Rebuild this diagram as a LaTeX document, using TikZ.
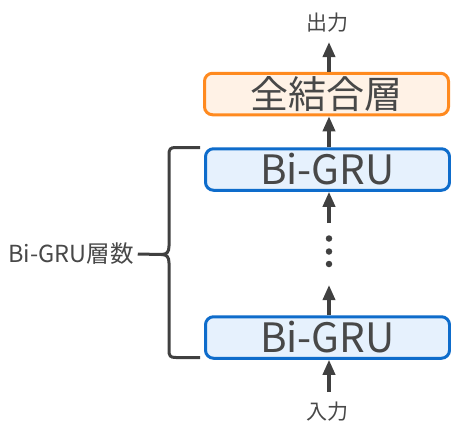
\documentclass[tikz,border=0pt]{standalone}
\usepackage{fontspec}
\setmainfont{Noto Sans CJK JP}
\usetikzlibrary{arrows.meta}
\definecolor{txt}{HTML}{484848}
\definecolor{arr}{HTML}{404040}
\definecolor{orgB}{HTML}{FF8A1F}
\definecolor{orgF}{HTML}{FFF2E6}
\definecolor{bluB}{HTML}{0E6CCB}
\definecolor{bluF}{HTML}{E6F1FD}
\tikzset{
  layerbox/.style={rounded corners=8pt, line width=3pt, minimum width=244pt, minimum height=41.5pt, inner sep=0pt, text=txt},
  fcbox/.style={layerbox, draw=orgB, fill=orgF, font=\fontsize{38}{40}\selectfont},
  grubox/.style={layerbox, draw=bluB, fill=bluF, font=\fontsize{40.5}{42}\selectfont},
  flow/.style={draw=arr, line width=3.5pt, -{Triangle[width=12pt,length=15pt]}},
  lbl/.style={text=txt, inner sep=0pt, font=\fontsize{21}{24}\selectfont},
  dotmark/.style={circle, fill=arr, inner sep=0pt, minimum size=6.5pt}
}
\begin{document}
\begin{tikzpicture}[x=1pt,y=-1pt]
\useasboundingbox (0,0) rectangle (451,426);
\node[fcbox] (fc) at (326.5,94) {全結合層};
\node[grubox] (g2) at (327.5,169.5) {Bi-GRU};
\node[grubox] (g1) at (327.5,337.5) {Bi-GRU};
\node[lbl] (out) at (327,23) {出力};
\node[lbl] (in) at (327,412) {入力};
\node[lbl, font=\fontsize{23.5}{26}\selectfont] (num) at (71,254) {Bi-GRU層数};
\node[dotmark] (d1) at (329,238.5) {};
\node[dotmark] (d2) at (329,251.5) {};
\node[dotmark] (d3) at (329,264) {};
\coordinate (outend) at (329,42);
\coordinate (c1) at (329,223);
\coordinate (c2) at (329,285);
\coordinate (inend) at (329,392);
\draw[flow] ([xshift=2.5pt]fc.north) -- (outend);
\draw[flow] ([xshift=1.5pt]g2.north) -- ([xshift=2.5pt]fc.south);
\draw[flow] (c1) -- ([xshift=1.5pt]g2.south);
\draw[flow] ([xshift=1.5pt]g1.north) -- (c2);
\draw[flow] (inend) -- ([xshift=1.5pt]g1.south);
\coordinate (btop) at (200,147.5);
\coordinate (bbot) at (200,357.5);
\coordinate (bmid) at (161,254.5);
\draw[arr, line width=3pt, line join=round]
  (btop) -- (176,147.5) .. controls (170,147.5) and (169,149) .. (169,155)
  -- (169,246) .. controls (169,252) and (167,254.5) .. (bmid)
  .. controls (167,254.5) and (169,257) .. (169,263)
  -- (169,350) .. controls (169,356) and (170,357.5) .. (176,357.5) -- (bbot);
\draw[arr, line width=3pt] (num.east) ++(4,0) coordinate (stem) -- (bmid);
\end{tikzpicture}
\end{document}
